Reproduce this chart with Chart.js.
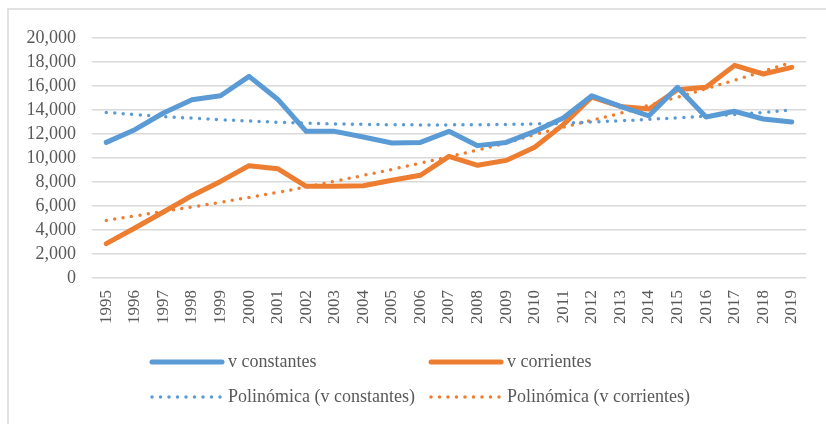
<!DOCTYPE html>
<html>
<head>
<meta charset="utf-8">
<script src="https://cdn.jsdelivr.net/npm/chart.js@4.4.1/dist/chart.umd.min.js"></script>
<style>
  html, body { margin: 0; padding: 0; background: #fff; }
  #wrap { width: 826px; height: 424px; position: relative; }
</style>
</head>
<body>
<div id="wrap"><canvas id="lineChart"></canvas></div>
<script>
const years = ['1995', '1996', '1997', '1998', '1999', '2000', '2001', '2002', '2003', '2004', '2005', '2006',
  '2007', '2008', '2009', '2010', '2011', '2012', '2013', '2014', '2015', '2016', '2017', '2018', '2019'];
const constantes = [11300, 12360, 13750, 14860, 15190, 16800, 14900, 12220, 12220, 11750, 11250, 11300,
  12220, 11030, 11300, 12220, 13330, 15190, 14300, 13520, 15890, 13420, 13890, 13250, 13000];
const corrientes = [2860, 4170, 5500, 6860, 8050, 9360, 9110, 7640, 7640, 7690, 8140, 8560,
  10140, 9390, 9800, 10890, 12780, 15080, 14300, 14080, 15690, 15890, 17720, 17000, 17550];
const polyConstantes = [13800, 13620, 13460, 13320, 13190, 13080, 12980, 12900, 12840, 12800, 12770, 12760,
  12760, 12770, 12800, 12840, 12900, 13000, 13100, 13220, 13350, 13480, 13630, 13800, 14000];
const polyCorrientes = [4800, 5170, 5550, 5920, 6310, 6720, 7140, 7590, 8060, 8550, 9050, 9570,
  10110, 10670, 11250, 11950, 12560, 13150, 13730, 14390, 15070, 15770, 16490, 17230, 17980];
const yTicks = [0, 2000, 4000, 6000, 8000, 10000, 12000, 14000, 16000, 18000, 20000];

const blue = '#5B9BD5';
const orange = '#ED7D31';
const textColor = '#595959';
const serif = '"Liberation Serif", "Times New Roman", serif';

// frame + two-column legend like the Excel original
const excelLegend = {
  id: 'excelLegend',
  afterDraw(chart) {
    const ctx = chart.ctx;
    ctx.save();
    ctx.strokeStyle = '#d9d9d9';
    ctx.lineWidth = 1.5;
    ctx.beginPath();
    ctx.moveTo(8, 424);
    ctx.lineTo(8, 9);
    ctx.lineTo(826, 9);
    ctx.stroke();

    const cols = [151, 430];
    const rows = [362, 397];
    ctx.font = '18px ' + serif;
    ctx.textBaseline = 'middle';
    ctx.fillStyle = textColor;
    chart.data.datasets.forEach((ds, i) => {
      const x = cols[i % 2];
      const y = rows[Math.floor(i / 2)];
      ctx.beginPath();
      ctx.strokeStyle = ds.borderColor;
      ctx.lineWidth = ds.borderWidth;
      ctx.lineCap = 'round';
      ctx.setLineDash(ds.borderDash || []);
      ctx.moveTo(x + 1, y);
      ctx.lineTo(x + 71, y);
      ctx.stroke();
      ctx.setLineDash([]);
      ctx.fillText(ds.label, x + 77, y);
    });
    ctx.restore();
  }
};

const lineCtx = document.getElementById('lineChart').getContext('2d');
new Chart(lineCtx, {
  type: 'line',
  data: {
    labels: years,
    datasets: [{
      label: 'v constantes',
      data: constantes,
      borderColor: blue,
      borderWidth: 5,
      borderCapStyle: 'round',
      borderJoinStyle: 'round',
      pointRadius: 0,
      tension: 0
    }, {
      label: 'v corrientes',
      data: corrientes,
      borderColor: orange,
      borderWidth: 5,
      borderCapStyle: 'round',
      borderJoinStyle: 'round',
      pointRadius: 0,
      tension: 0
    }, {
      label: 'Polinómica (v constantes)',
      data: polyConstantes,
      borderColor: blue,
      borderWidth: 3.5,
      borderDash: [0, 8.5],
      borderCapStyle: 'round',
      pointRadius: 0,
      tension: 0.4
    }, {
      label: 'Polinómica (v corrientes)',
      data: polyCorrientes,
      borderColor: orange,
      borderWidth: 3.5,
      borderDash: [0, 8.5],
      borderCapStyle: 'round',
      pointRadius: 0,
      tension: 0.4
    }]
  },
  options: {
    responsive: true,
    maintainAspectRatio: false,
    animation: false,
    layout: { padding: { left: 0, right: 20, top: 38, bottom: 0 } },
    plugins: {
      legend: { display: false },
      tooltip: { enabled: false }
    },
    scales: {
      x: {
        offset: true,
        grid: { display: false, drawTicks: false },
        border: { display: false },
        ticks: {
          color: textColor,
          font: { family: serif, size: 17 },
          minRotation: 90,
          maxRotation: 90,
          autoSkip: false,
          padding: 12
        },
        afterFit(scale) { scale.height = 146; }
      },
      y: {
        min: 0,
        max: 20000,
        afterBuildTicks(scale) { scale.ticks = yTicks.map(v => ({ value: v })); },
        grid: { color: '#d9d9d9', lineWidth: 1.5, drawTicks: false },
        border: { display: false },
        ticks: {
          color: textColor,
          font: { family: serif, size: 18 },
          padding: 16,
          autoSkip: false,
          callback: v => v.toLocaleString('en-US')
        },
        afterFit(scale) { scale.width = 92; }
      }
    }
  },
  plugins: [excelLegend]
});
</script>
</body>
</html>
